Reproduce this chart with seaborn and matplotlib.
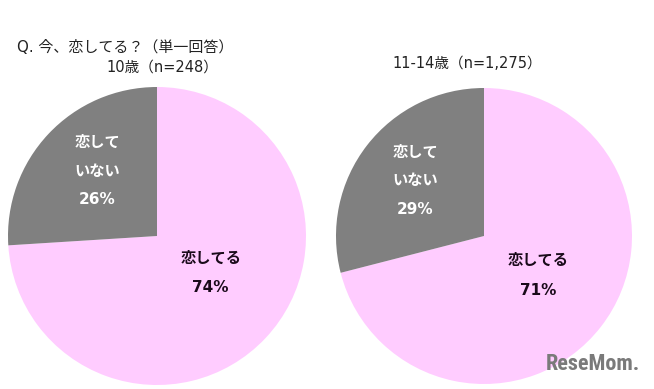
import matplotlib
matplotlib.use("Agg")
import matplotlib.pyplot as plt
import seaborn as sns
import numpy as np

sns.set_theme(style="white")
plt.rcParams['font.family'] = ['Noto Sans CJK JP', 'DejaVu Sans']

# ---- data ----
categories = ["恋してる", "恋していない"]
label_lines = [["恋してる"], ["恋して", "いない"]]
groups = ["10歳（n=248）", "11-14歳（n=1,275）"]
values_10 = [74, 26]
values_11_14 = [71, 29]
title = "Q. 今、恋してる？（単一回答）"

colors = ["#FFCCFF", "#808080"]
text_colors = ["#1a0a1a", "#FFFFFF"]
latin_cjk = ['DejaVu Sans', 'Noto Sans CJK JP']

W, H = 654, 389
fig = plt.figure(figsize=(W / 100, H / 100), dpi=100)
fig.patch.set_facecolor("white")

def px_axes(cx, cy, r):
    return fig.add_axes([(cx - r) / W, (H - cy - r) / H, 2 * r / W, 2 * r / H])

# label layout: (x, first-line y, line step) per category, in pie radius units
pies = [
    (values_10, groups[0], (157, 236, 149),
     [(0.36, -0.148, 0.200), (-0.40, 0.632, 0.195)], 162, 67),
    (values_11_14, groups[1], (484, 236, 148),
     [(0.365, -0.162, 0.203), (-0.466, 0.568, 0.193)], 467, 64),
]

for vals, grp, (cx, cy, r), lpos, tx, ty in pies:
    ax = px_axes(cx, cy, r)
    ax.pie(vals, colors=colors, startangle=90, counterclock=False, radius=1.0,
           wedgeprops=dict(linewidth=0))
    ax.set_xlim(-1, 1)
    ax.set_ylim(-1, 1)
    ax.set_aspect("equal")
    ax.axis("off")
    for i, (lx, ly, step) in enumerate(lpos):
        lines = label_lines[i]
        for k, line in enumerate(lines):
            ax.text(lx, ly - k * step, line, ha="center", va="center",
                    fontsize=11, fontweight="bold", color=text_colors[i])
        ax.text(lx, ly - len(lines) * step, f"{vals[i]}%", ha="center",
                va="center", fontsize=11, fontweight="bold",
                color=text_colors[i], family=latin_cjk)
    fig.text(tx / W, 1 - ty / H, grp, ha="center", va="center", fontsize=10.5,
             color="#222222", family=latin_cjk)

fig.text(17 / W, 1 - 47 / H, title, ha="left", va="center", fontsize=10.8,
         color="#222222", family=latin_cjk)

fig.text(593 / W, 1 - 364 / H, "ReseMom.", ha="center", va="center",
         fontsize=16, fontweight="bold", color="#7a7a7a",
         family=['Roboto Condensed', 'Roboto', 'DejaVu Sans'])

fig.savefig("out.png", dpi=100, facecolor="white")
